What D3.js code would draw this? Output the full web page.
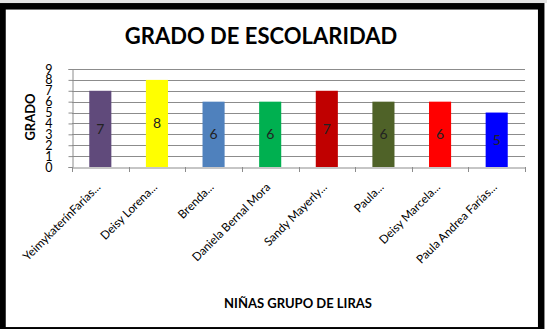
<!DOCTYPE html>
<html>
<head>
<meta charset="utf-8">
<script src="https://cdn.jsdelivr.net/npm/d3@7"></script>
<style>
  html, body { margin: 0; padding: 0; background: #fff; }
  svg { display: block; }
  text { font-family: Lato, "Open Sans", sans-serif; }
</style>
</head>
<body>
<svg id="chart" width="547" height="329"></svg>
<script>
// Grado de escolaridad — niñas grupo de liras
const names = [
    "YeimykaterínFarias...",
    "Deisy Lorena...",
    "Brenda...",
    "Daniela Bernal Mora",
    "Sandy Mayerly...",
    "Paula...",
    "Deisy Marcela...",
    "Paula Andrea Farías..."
];
const grades = [7, 8, 6, 6, 7, 6, 6, 5];
const barColors = ["#604a7b", "#ffff00", "#4f81bd", "#00b050", "#c00000", "#4f6228", "#ff0000", "#0000ff"];
const yTicks = [0, 1, 2, 3, 4, 5, 6, 7, 8, 9];

const svg = d3.select("#chart");
const W = 547, H = 329;
const plot = { left: 72, right: 525, top: 69, bottom: 167 };

// outer frame
svg.append("rect").attr("x", 0).attr("y", 0).attr("width", W).attr("height", 3).attr("fill", "#e4e4e4");
svg.append("rect")
    .attr("x", 2.5).attr("y", 6.3)
    .attr("width", 538.7).attr("height", 324)
    .attr("fill", "#fff")
    .attr("stroke", "#000")
    .attr("stroke-width", 6.5);

const x = d3.scaleBand().domain(names).range([plot.left, plot.right]).paddingInner(0.61).paddingOuter(0.305);
const y = d3.scaleLinear().domain([0, 9]).range([plot.bottom, plot.top]);

// gridlines
svg.append("g")
    .selectAll("line")
    .data(yTicks.filter(d => d > 0))
    .join("line")
    .attr("x1", plot.left).attr("x2", plot.right)
    .attr("y1", d => Math.round(y(d)) + 0.5).attr("y2", d => Math.round(y(d)) + 0.5)
    .attr("stroke", "#8c8c8c")
    .attr("stroke-width", 1);

// y axis
const yAxis = svg.append("g")
    .attr("transform", `translate(${plot.left + 0.5},0)`)
    .call(d3.axisLeft(y).tickValues(yTicks).tickSize(4).tickPadding(16));
yAxis.select(".domain").attr("stroke", "#8c8c8c");
yAxis.selectAll(".tick line").attr("stroke", "#8c8c8c");
yAxis.selectAll("text")
    .attr("font-family", "Lato, sans-serif")
    .attr("font-size", 12.5)
    .attr("fill", "#000");

// x axis
const xAxis = svg.append("g")
    .attr("transform", `translate(0,${plot.bottom + 0.5})`)
    .call(d3.axisBottom(x).tickSize(0).tickFormat(""));
xAxis.select(".domain").attr("stroke", "#8c8c8c");
const step = x.step();
svg.append("g")
    .selectAll("line")
    .data(d3.range(names.length + 1))
    .join("line")
    .attr("x1", i => Math.round(plot.left + i * step) + 0.5)
    .attr("x2", i => Math.round(plot.left + i * step) + 0.5)
    .attr("y1", plot.bottom).attr("y2", plot.bottom + 5)
    .attr("stroke", "#8c8c8c");

// bars
svg.append("g")
    .selectAll("rect")
    .data(grades)
    .join("rect")
    .attr("x", (d, i) => x(names[i]))
    .attr("y", d => y(d))
    .attr("width", x.bandwidth())
    .attr("height", d => y(0) - y(d))
    .attr("fill", (d, i) => barColors[i]);

// value labels
svg.append("g")
    .selectAll("text")
    .data(grades)
    .join("text")
    .attr("x", (d, i) => x(names[i]) + x.bandwidth() / 2)
    .attr("y", d => (y(d) + y(0)) / 2)
    .attr("dy", "0.35em")
    .attr("text-anchor", "middle")
    .attr("font-size", 14)
    .attr("fill", "#222")
    .text(d => d);

// category labels
svg.append("g")
    .selectAll("text")
    .data(names)
    .join("text")
    .attr("transform", d => `translate(${x(d) + x.bandwidth() / 2 - 2},${plot.bottom + 18}) rotate(-45)`)
    .attr("text-anchor", "end")
    .attr("dy", "0.35em")
    .attr("font-size", 11.7)
    .attr("fill", "#000")
    .text(d => d);

// titles
svg.append("text")
    .attr("x", 261).attr("y", 44)
    .attr("text-anchor", "middle")
    .attr("font-size", 22)
    .attr("font-weight", "bold")
    .attr("fill", "#000")
    .text("GRADO DE ESCOLARIDAD");

svg.append("text")
    .attr("transform", "translate(35,117) rotate(-90)")
    .attr("text-anchor", "middle")
    .attr("font-size", 13)
    .attr("font-weight", "bold")
    .attr("fill", "#000")
    .text("GRADO");

svg.append("text")
    .attr("x", 298).attr("y", 308)
    .attr("text-anchor", "middle")
    .attr("font-size", 13)
    .attr("font-weight", "bold")
    .attr("fill", "#000")
    .text("NIÑAS GRUPO DE LIRAS");
</script>
</body>
</html>
